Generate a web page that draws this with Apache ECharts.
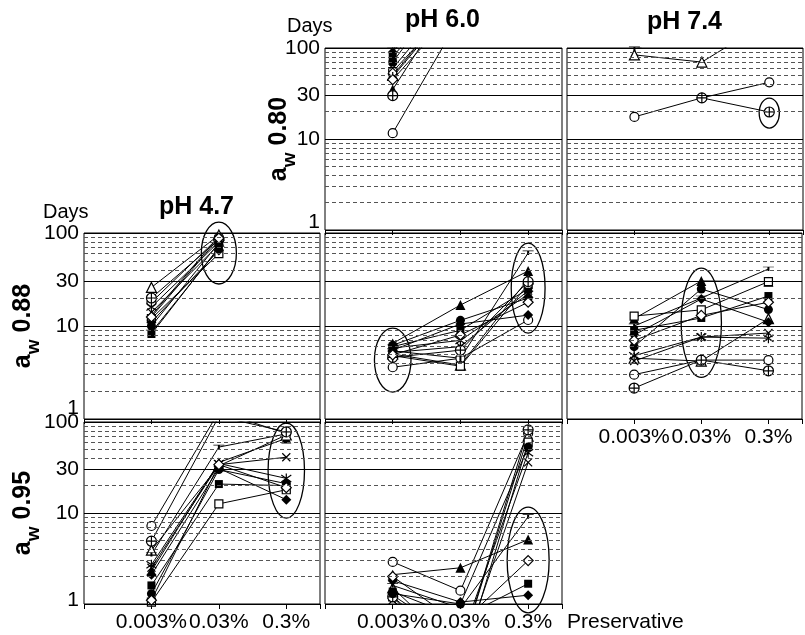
<!DOCTYPE html>
<html>
<head>
<meta charset="utf-8">
<script src="https://cdn.jsdelivr.net/npm/echarts@6/dist/echarts.min.js"></script>
<style>html,body{margin:0;background:#fff}#main{width:805px;height:635px}</style>
</head>
<body>
<div id="main"></div>
<script>
// preservative levels on x, days (log scale) on y
var preservative = ['0.003%', '0.03%', '0.3%'];
var xPos = [1, 2, 3];
var yLabels = [1, 10, 30, 100];
var dashLines = [2, 3, 4, 5, 6, 7, 8, 9, 20, 40, 50, 60, 70, 80, 90];

// strain markers (one per row of each panel table)
var strainSymbols = ['circle', 'triangle', 'triangle', 'rect', 'rect', 'diamond', 'x', 'asterisk', 'dash', 'cplus', 'circle', 'diamond'];
var strainFilled  = [false, true, false, true, false, true, false, false, false, false, true, false];

// days to growth: [0.003%, 0.03%, 0.3%] per strain, null = no point
var aw80_ph60 = [
  [11.6, 220, null], [35, 500, null], [50, 400, null], [80, 600, null],
  [55, 350, null], [90, 800, null], [60, 450, null], [48, 380, null],
  [95, 900, null], [30, null, null], [70, 700, null], [45, 300, null]
];
var aw80_ph74 = [
  [17.5, 28.3, 42], [null, null, null], [84, 70, 200], [null, null, null],
  [null, null, null], [null, null, null], [null, null, null], [null, null, null],
  [98, 160, null], [null, 28.3, 19.8], [null, null, null], [null, null, null]
];
var aw88_ph47 = [
  [18, 90, null], [13, 92, null], [26, 95, null], [8.2, 70, null],
  [12, 60, null], [11, 65, null], [14, 75, null], [16, 80, null],
  [8.6, 68, null], [20, 85, null], [10, 78, null], [12.5, 88, null]
];
var aw88_ph60 = [
  [3.6, 4.5, 11.6], [6.5, 16.8, 39], [5.0, 3.8, 32], [6.0, 9, 25],
  [4.8, 3.7, 28], [5.5, 10.5, 13.1], [5.2, 6, 24], [5.8, 7, 22],
  [5.4, 4.5, 61], [4.6, 5.5, 30], [6.2, 11.5, 20], [4.9, 8, 18]
];
var aw88_ph74 = [
  [3.0, 4.3, 4.3], [12, 30.5, 30], [4.5, 4.2, 12], [9, 12.2, 21],
  [12.8, 14.9, 30], [8, 19.5, 11], [4.2, 7.6, 8.4], [4.8, 7.6, 7.4],
  [10, 20, 41], [2.15, 4.3, 3.3], [6, 25, 15], [7, 13, 18]
];
var aw95_ph47 = [
  [7.2, 130, 75], [2.3, 36, 66], [3.9, 33, 72], [1.6, 20.8, 20],
  [1.05, 12.6, 18], [2.1, 31, 14], [2.5, 34, 41], [2.7, 35, 24],
  [3.5, 53, 74], [4.9, 115, 78], [1.3, 30, 21], [1.1, 34, 19]
];
var aw95_ph60 = [
  [2.9, 1.4, 75], [2.1, 2.5, 5.1], [1.5, 0.3, 70], [1.37, 0.7, 1.67],
  [1.2, 0.2, 60], [1.8, 1.05, 1.25], [1.1, 0.25, 36], [1.25, 0.4, 46],
  [1.6, 0.9, 9.1], [1.2, 0.3, 82], [1.3, 1.0, 53], [2.0, 0.6, 3.0]
];

// circled groups: [panel, x, top days, bottom days, half width in x units]
var ellipses = [
  [1, 3, 28.2, 13.2, 0.15],
  [2, 2, 131, 28.3, 0.26],
  [3, 1, 9.5, 1.95, 0.27],
  [3, 3, 78, 8.4, 0.25],
  [4, 2, 42, 2.8, 0.30],
  [5, 3, 97.5, 8.8, 0.27],
  [6, 3, 11.6, 0.8, 0.31]
];

var panels = [
  {data: aw80_ph60, left: 325, top: 48, width: 237, height: 182, aw: '0.80', yText: true, xText: false, oneLift: -8},
  {data: aw80_ph74, left: 567, top: 48, width: 236, height: 182, aw: null, yText: false, xText: false, oneLift: 0},
  {data: aw88_ph47, left: 84, top: 233, width: 236, height: 186, aw: '0.88', yText: true, xText: false, oneLift: -11},
  {data: aw88_ph60, left: 325, top: 233, width: 237, height: 186, aw: null, yText: false, xText: false, oneLift: 0},
  {data: aw88_ph74, left: 567, top: 233, width: 236, height: 186, aw: null, yText: false, xText: true, oneLift: 0},
  {data: aw95_ph47, left: 84, top: 422, width: 236, height: 182, aw: '0.95', yText: true, xText: true, oneLift: -4},
  {data: aw95_ph60, left: 325, top: 422, width: 237, height: 182, aw: null, yText: false, xText: true, oneLift: 0}
];

var font = 'Liberation Sans, Arial, sans-serif';
var symbolPaths = {
  x: 'path://M0,0L10,10M10,0L0,10',
  asterisk: 'path://M0,1.5L10,8.5M10,1.5L0,8.5M5,0V10',
  dash: 'path://M0,0H10M5,0V4',
  cplus: 'path://M0,5A5,5,0,1,1,10,5A5,5,0,1,1,0,5ZM5,0V10M0,5H10'
};
var symbolSizes = {circle: 9, triangle: 10, rect: 8, diamond: 10, x: 8, asterisk: 10, dash: [11, 4], cplus: 10};

function ellipseItem(params, api) {
  var c = api.value(0), h = api.value(3);
  var top = api.coord([c, api.value(1)]);
  var bot = api.coord([c, api.value(2)]);
  var left = api.coord([c - h, api.value(1)]);
  return {
    type: 'ellipse',
    shape: {cx: top[0], cy: (top[1] + bot[1]) / 2, rx: top[0] - left[0], ry: (bot[1] - top[1]) / 2},
    style: {fill: 'none', stroke: '#000', lineWidth: 1.3}
  };
}

var grids = [], xAxes = [], yAxes = [], series = [];
panels.forEach(function (p, i) {
  grids.push({left: p.left, top: p.top, width: p.width, height: p.height, show: true, borderColor: '#000', borderWidth: 1});
  xAxes.push({
    type: 'value', gridIndex: i, min: 0, max: 3.5, interval: 1,
    axisLine: {show: false}, splitLine: {show: false},
    axisTick: {show: true, length: 5, lineStyle: {color: '#000'}},
    axisLabel: {show: p.xText, fontSize: 21, color: '#000', margin: 8, fontFamily: font,
      formatter: function (v) { return preservative[v - 1] || ''; }}
  });
  yAxes.push({
    type: 'log', logBase: 10, gridIndex: i, min: 1, max: 100,
    axisLine: {show: false}, axisTick: {show: false}, axisLabel: {show: false}, splitLine: {show: false},
    name: p.aw ? '{a|a}{w|w}{b| ' + p.aw + '}' : '',
    nameLocation: 'middle', nameRotate: 90, nameGap: i === 0 ? 26 : 41,
    nameTextStyle: {
      fontFamily: font, color: '#000',
      rich: {
        a: {fontSize: 25, fontWeight: 'bold', verticalAlign: 'bottom', padding: [0, 0, 7, 0], fontFamily: font},
        w: {fontSize: 19, fontWeight: 'bold', verticalAlign: 'bottom', fontFamily: font},
        b: {fontSize: 25, fontWeight: 'bold', verticalAlign: 'bottom', padding: [0, 0, 7, 0], fontFamily: font}
      }
    }
  });
  // dashed minor grid
  series.push({
    type: 'line', xAxisIndex: i, yAxisIndex: i, data: [], silent: true,
    markLine: {
      symbol: 'none', silent: true, animation: false,
      lineStyle: {color: '#555', width: 1, type: [4, 3]},
      label: {show: false},
      data: dashLines.map(function (v) { return {yAxis: v}; })
    }
  });
  // solid major lines with day labels
  series.push({
    type: 'line', xAxisIndex: i, yAxisIndex: i, data: [], silent: true,
    markLine: {
      symbol: 'none', silent: true, animation: false,
      lineStyle: {color: '#000', width: 1, type: 'solid'},
      label: {show: p.yText, position: 'start', fontSize: 21, color: '#000', distance: 5, fontFamily: font},
      data: yLabels.map(function (v) {
        return {yAxis: v, label: {formatter: String(v), offset: [0, v === 1 ? p.oneLift : 0]}};
      })
    }
  });
  p.data.forEach(function (row, s) {
    var sym = strainSymbols[s];
    var filled = strainFilled[s];
    var stroked = sym === 'x' || sym === 'asterisk' || sym === 'dash';
    series.push({
      type: 'line', xAxisIndex: i, yAxisIndex: i, silent: true, z: 3,
      data: row.map(function (v, k) { return [xPos[k], v == null ? '-' : v]; }),
      symbol: symbolPaths[sym] || sym,
      symbolSize: symbolSizes[sym],
      showAllSymbol: true,
      itemStyle: {
        color: filled ? '#000' : (stroked ? 'rgba(0,0,0,0)' : '#fff'),
        borderColor: '#000', borderWidth: filled ? 0 : 1.2
      },
      lineStyle: {color: '#000', width: 1}
    });
  });
  var circled = ellipses.filter(function (e) { return e[0] === i; });
  if (circled.length) {
    series.push({
      type: 'custom', xAxisIndex: i, yAxisIndex: i, silent: true, z: 4, clip: false,
      renderItem: ellipseItem,
      data: circled.map(function (e) { return [e[1], e[2], e[3], e[4]]; })
    });
  }
});

var chart = echarts.init(document.getElementById('main'));
chart.setOption({
  animation: false,
  backgroundColor: '#fff',
  textStyle: {fontFamily: font},
  title: [
    {text: 'Days', left: 287, top: 16, padding: 0, textStyle: {fontSize: 20, fontWeight: 'normal', color: '#000', fontFamily: font}},
    {text: 'pH 6.0', left: 405, top: 8, padding: 0, textStyle: {fontSize: 25, fontWeight: 'bold', color: '#000', fontFamily: font}},
    {text: 'pH 7.4', left: 647, top: 10, padding: 0, textStyle: {fontSize: 25, fontWeight: 'bold', color: '#000', fontFamily: font}},
    {text: 'Days', left: 43, top: 202, padding: 0, textStyle: {fontSize: 20, fontWeight: 'normal', color: '#000', fontFamily: font}},
    {text: 'pH 4.7', left: 159, top: 195, padding: 0, textStyle: {fontSize: 25, fontWeight: 'bold', color: '#000', fontFamily: font}},
    {text: 'Preservative', left: 567, top: 612, padding: 0, textStyle: {fontSize: 21, fontWeight: 'normal', color: '#000', fontFamily: font}}
  ],
  grid: grids,
  xAxis: xAxes,
  yAxis: yAxes,
  series: series
});
</script>
</body>
</html>
